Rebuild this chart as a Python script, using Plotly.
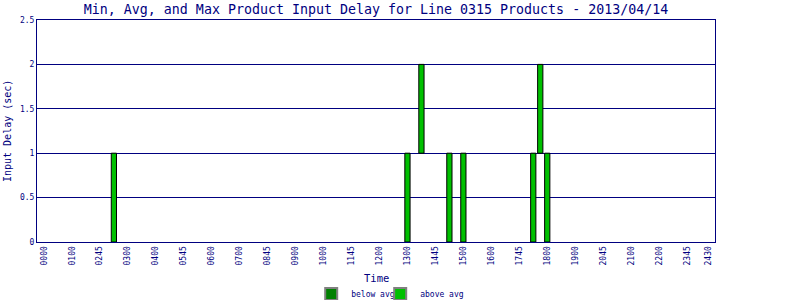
import plotly.graph_objects as go

# ---- data ----
tick_labels = ["0000", "0100", "0245", "0300", "0400", "0545", "0600", "0700",
               "0845", "0900", "1000", "1145", "1200", "1300", "1445", "1500",
               "1600", "1745", "1800", "1900", "2045", "2100", "2200", "2345", "2430"]
tick_slots = [0, 4, 8, 12, 16, 20, 24, 28, 32, 36, 40, 44, 48, 52, 56, 60,
              64, 68, 72, 76, 80, 84, 88, 92, 95]

above_times = ["0230", "1300", "1330", "1430", "1500", "1730", "1745", "1800"]
above_min = [0, 0, 1, 0, 0, 0, 1, 0]
above_max = [1, 1, 2, 1, 1, 1, 2, 1]

below_times = []
below_min = []
below_max = []


def slot(t):
    return int(t[:2]) * 4 + int(t[2:]) // 15


NAVY = "#000080"
FONT = "DejaVu Sans Mono"

fig = go.Figure()

fig.add_trace(go.Bar(
    x=[slot(t) for t in above_times],
    y=[mx - mn for mn, mx in zip(above_min, above_max)],
    base=above_min,
    width=0.75,
    marker=dict(color="#00C000", line=dict(color="#000000", width=1)),
    showlegend=False, name="above avg",
))

# legend entries (also carries the below-avg series, which has no bars this day)
fig.add_trace(go.Bar(
    x=[slot(t) for t in below_times] or [None],
    y=[mx - mn for mn, mx in zip(below_min, below_max)] or [None],
    name="below avg",
    marker=dict(color="#008000", line=dict(color="#808080", width=2)),
))
fig.add_trace(go.Bar(
    x=[None], y=[None], name="above avg",
    marker=dict(color="#00C000", line=dict(color="#808080", width=2)),
))
# blank spacer entry so the last legend label is not clipped
fig.add_trace(go.Bar(
    x=[None], y=[None], name="\u00a0",
    marker=dict(color="rgba(0,0,0,0)", line=dict(width=0)),
))

fig.update_layout(
    width=800, height=300,
    margin=dict(l=37, r=85, t=20, b=58),
    paper_bgcolor="white", plot_bgcolor="white",
    barmode="overlay",
    title=dict(text="Min, Avg, and Max Product Input Delay for Line 0315 Products - 2013/04/14",
               font=dict(family=FONT, size=13.3, color=NAVY),
               x=0.47, xanchor="center", y=0.97, yanchor="middle", xref="container", yref="container"),
    xaxis=dict(range=[-1, 96], tickvals=tick_slots, ticktext=tick_labels, automargin=False,
               tickangle=-90, tickfont=dict(family=FONT, size=8, color=NAVY),
               showgrid=False, zeroline=False, showline=True, mirror=True,
               linecolor=NAVY, linewidth=1, ticks=""),
    yaxis=dict(range=[0, 2.5], tickvals=[0, 0.5, 1, 1.5, 2, 2.5], automargin=False,
               ticktext=["0", "0.5", "1", "1.5", "2", "2.5"],
               tickfont=dict(family=FONT, size=8, color=NAVY),
               showgrid=True, gridcolor=NAVY, gridwidth=1, zeroline=False,
               showline=True, mirror=True, linecolor=NAVY, linewidth=1, ticks=""),
    annotations=[
        dict(text="Time", xref="paper", yref="paper", x=0.5, y=-0.162,
             xanchor="center", yanchor="middle", showarrow=False,
             font=dict(family=FONT, size=10.5, color=NAVY)),
        dict(text="Input Delay (sec)", xref="paper", yref="paper", x=-0.0442, y=0.5,
             xanchor="center", yanchor="middle", showarrow=False, textangle=-90,
             font=dict(family=FONT, size=10, color=NAVY)),
    ],
    legend=dict(orientation="h", xref="container", yref="container",
                x=0.389, xanchor="left", y=0.02, yanchor="middle",
                font=dict(family=FONT, size=8, color=NAVY),
                itemwidth=30, tracegroupgap=0, entrywidth=24),
)

fig.write_html("out.html")
